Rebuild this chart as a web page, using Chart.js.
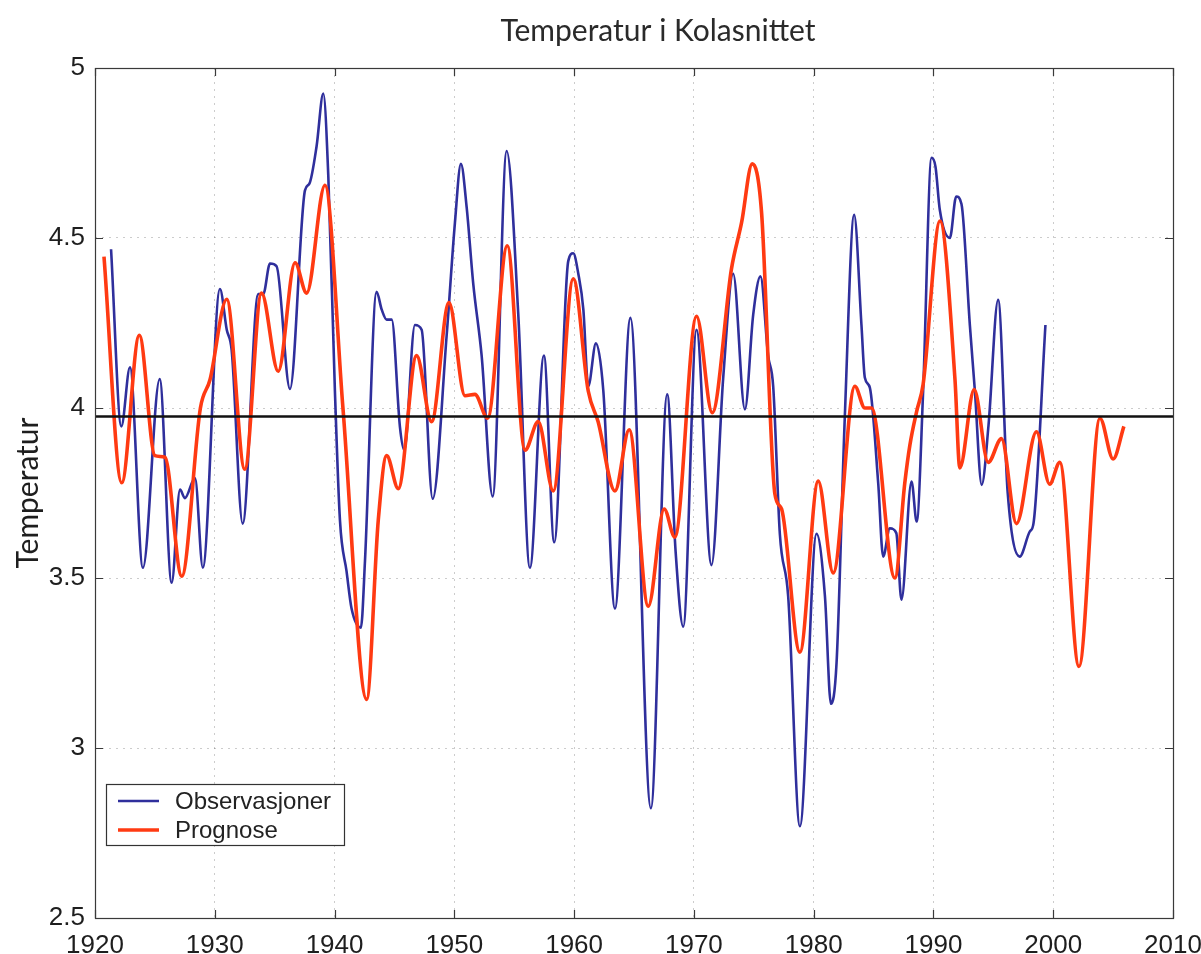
<!DOCTYPE html>
<html>
<head>
<meta charset="utf-8">
<style>
  html, body { margin: 0; padding: 0; background: #ffffff; }
  #wrap { width: 1201px; height: 954px; }
</style>
<script src="https://cdn.jsdelivr.net/npm/chart.js@4.4.1/dist/chart.umd.min.js"></script>
</head>
<body>
<div id="wrap"><canvas id="c" width="1201" height="954"></canvas></div>
<script>
// Observed temperature in the Kola section (smoothed), year / value
const obsYears = [
  1921.34, 1922.2, 1922.92, 1924.0, 1925.4, 1926.4, 1927.1, 1927.5, 1928.35, 1929.0,
  1930.43, 1931.0, 1931.41, 1932.33, 1933.63, 1934.05, 1934.61, 1935.16, 1936.28, 1937.53,
  1937.9, 1938.5, 1939.06, 1939.48, 1940.03, 1940.45, 1941.0, 1941.42, 1942.2, 1942.54,
  1943.51, 1943.93, 1944.35, 1944.77, 1945.46, 1945.82, 1946.71, 1947.27, 1948.19, 1949.36,
  1950.05, 1950.55, 1951.03, 1951.58, 1952.28, 1953.2, 1954.37, 1955.34, 1956.31, 1957.48,
  1958.34, 1959.51, 1959.93, 1960.35, 1960.77, 1961.18, 1961.82, 1962.44, 1963.41, 1964.7,
  1966.41, 1967.77, 1968.47, 1969.11, 1970.22, 1971.47, 1972.45, 1973.28, 1974.26, 1974.95,
  1975.56, 1976.2, 1976.62, 1977.18, 1977.87, 1978.85, 1980.24, 1980.94, 1981.44, 1981.91,
  1982.6, 1983.38, 1983.99, 1984.27, 1984.69, 1985.39, 1985.8, 1986.36, 1986.9, 1987.33,
  1988.17, 1988.6, 1989.14, 1989.84, 1990.17, 1990.53, 1991.37, 1991.9, 1992.34, 1993.04,
  1993.46, 1994.03, 1994.6, 1995.4, 1996.2, 1997.2, 1998.05, 1998.35, 1999.35
];
const obsValues = [
  4.467, 3.946, 4.12, 3.53, 4.085, 3.486, 3.76, 3.735, 3.794, 3.53,
  4.35, 4.23, 4.17, 3.66, 4.335, 4.335, 4.425, 4.417, 4.056, 4.64,
  4.66, 4.77, 4.925, 4.68, 4.05, 3.67, 3.52, 3.41, 3.354, 3.55,
  4.342, 4.29, 4.26, 4.26, 3.944, 3.876, 4.244, 4.23, 3.733, 4.214,
  4.545, 4.718, 4.59, 4.365, 4.154, 3.74, 4.756, 4.274, 3.53, 4.154,
  3.605, 4.432, 4.455, 4.395, 4.29, 4.064, 4.19, 4.05, 3.41, 4.265,
  2.823, 4.04, 3.58, 3.357, 4.23, 3.538, 4.09, 4.395, 3.996, 4.274,
  4.387, 4.154, 4.064, 3.628, 3.447, 2.77, 3.63, 3.447, 3.13, 3.25,
  3.974, 4.568, 4.244, 4.09, 4.06, 3.778, 3.563, 3.646, 3.632, 3.436,
  3.784, 3.666, 4.05, 4.736, 4.71, 4.583, 4.5, 4.622, 4.6, 4.244,
  4.05, 3.774, 3.95, 4.318, 3.75, 3.563, 3.637, 3.66, 4.244
];

// Model forecast for the same section
const progYears = [
  1920.75, 1922.23, 1923.7, 1925.0, 1925.84, 1927.24, 1928.8, 1929.6, 1931.0, 1932.5,
  1933.9, 1935.3, 1936.7, 1937.67, 1939.2, 1940.7, 1942.68, 1943.65, 1944.35, 1945.32,
  1946.85, 1948.1, 1949.55, 1950.89, 1951.72, 1952.78, 1954.42, 1955.9, 1957.0, 1958.26,
  1959.93, 1961.18, 1962.0, 1963.41, 1964.6, 1966.19, 1967.52, 1968.41, 1970.22, 1971.53,
  1973.14, 1973.98, 1974.87, 1975.65, 1976.76, 1977.32, 1978.85, 1980.38, 1981.63, 1983.44,
  1984.27, 1984.83, 1986.78, 1987.61, 1988.03, 1988.6, 1989.14, 1990.55, 1991.8, 1992.2,
  1993.4, 1994.57, 1995.68, 1996.93, 1998.6, 1999.7, 2000.55, 2002.15, 2003.9, 2005.0,
  2005.9
];
const progValues = [
  4.445, 3.78, 4.214, 3.86, 3.855, 3.505, 4.0, 4.083, 4.32, 3.82,
  4.338, 4.108, 4.427, 4.338, 4.655, 4.0, 3.143, 3.67, 3.86, 3.763,
  4.154, 3.96, 4.31, 4.036, 4.04, 3.97, 4.477, 3.876, 3.96, 3.756,
  4.38, 4.05, 3.96, 3.756, 3.936, 3.417, 3.703, 3.62, 4.27, 3.986,
  4.41, 4.545, 4.718, 4.575, 3.748, 3.703, 3.282, 3.785, 3.515, 4.064,
  4.0, 4.0, 3.5, 3.78, 3.89, 3.99, 4.07, 4.55, 4.083, 3.824,
  4.054, 3.84, 3.91, 3.66, 3.93, 3.776, 3.84, 3.24, 3.97, 3.85,
  3.946
];

// Long-term mean level, drawn across the whole period
const meanLevel = 3.975;
const meanYears = [1920, 2010];

const xTickValues = [1920, 1930, 1940, 1950, 1960, 1970, 1980, 1990, 2000, 2010];
const xTickLabels = ['1920', '1930', '1940', '1950', '1960', '1970', '1980', '1990', '2000', '2010'];
const yTickValues = [2.5, 3, 3.5, 4, 4.5, 5];
const yTickLabels = ['2.5', '3', '3.5', '4', '4.5', '5'];

const seriesNames = ['Observasjoner', 'Prognose'];
const chartTitle = 'Temperatur i Kolasnittet';
const yAxisTitle = 'Temperatur';

const BLUE = '#2f2f9c';
const RED = '#ff3a12';
const TICK_FONT = '"Liberation Sans Narrow", "Liberation Sans", Arial, sans-serif';
const TEXT_FONT = 'Lato, "Open Sans", sans-serif';

const toPoints = (xs, ys) => xs.map((x, i) => ({ x: x, y: ys[i] }));

// Title, box frame with inward tick marks on all four sides, and the legend box
const framePlugin = {
  id: 'frameAndLegend',
  afterDatasetsDraw(chart) {
    const ctx = chart.ctx;
    const a = chart.chartArea;
    const xs = chart.scales.x;
    const ys = chart.scales.y;
    const L = 8;
    ctx.save();

    ctx.fillStyle = '#2a2a2a';
    ctx.font = '30px ' + TEXT_FONT;
    ctx.textAlign = 'center';
    ctx.textBaseline = 'middle';
    ctx.fillText(chartTitle, (a.left + a.right) / 2 + 24, 31);
    ctx.textAlign = 'left';

    ctx.strokeStyle = '#3a3a3a';
    ctx.lineWidth = 1.2;
    ctx.strokeRect(a.left + 0.5, a.top + 0.5, a.right - a.left, a.bottom - a.top);
    ctx.beginPath();
    xTickValues.forEach(v => {
      const px = Math.round(xs.getPixelForValue(v)) + 0.5;
      ctx.moveTo(px, a.bottom); ctx.lineTo(px, a.bottom - L);
      ctx.moveTo(px, a.top); ctx.lineTo(px, a.top + L);
    });
    yTickValues.forEach(v => {
      const py = Math.round(ys.getPixelForValue(v)) + 0.5;
      ctx.moveTo(a.left, py); ctx.lineTo(a.left + L, py);
      ctx.moveTo(a.right, py); ctx.lineTo(a.right - L, py);
    });
    ctx.stroke();

    // legend in the lower left corner of the plot
    const bx = a.left + 11, by = a.bottom - 134, bw = 238, bh = 61;
    ctx.fillStyle = '#ffffff';
    ctx.fillRect(bx, by, bw, bh);
    ctx.strokeStyle = '#333333';
    ctx.lineWidth = 1.2;
    ctx.strokeRect(bx + 0.5, by + 0.5, bw, bh);
    const entries = seriesNames.map(n => chart.data.datasets.find(d => d.label === n));
    ctx.font = '24px "Liberation Sans", Arial, sans-serif';
    ctx.textBaseline = 'middle';
    entries.forEach((d, i) => {
      const ly = by + 17 + i * 29;
      ctx.strokeStyle = d.borderColor;
      ctx.lineWidth = d.borderWidth;
      ctx.beginPath();
      ctx.moveTo(bx + 12, ly);
      ctx.lineTo(bx + 53, ly);
      ctx.stroke();
      ctx.fillStyle = '#222222';
      ctx.fillText(d.label, bx + 69, ly + 1);
    });
    ctx.restore();
  }
};

new Chart(document.getElementById('c'), {
  type: 'line',
  data: {
    datasets: [
      {
        label: 'Middel',
        data: toPoints(meanYears, meanYears.map(() => meanLevel)),
        borderColor: '#111111',
        borderWidth: 2.6,
        pointRadius: 0,
        order: 0
      },
      {
        label: seriesNames[1],
        data: toPoints(progYears, progValues),
        borderColor: RED,
        borderWidth: 3.6,
        pointRadius: 0,
        cubicInterpolationMode: 'monotone',
        order: 1
      },
      {
        label: seriesNames[0],
        data: toPoints(obsYears, obsValues),
        borderColor: BLUE,
        borderWidth: 2.6,
        pointRadius: 0,
        cubicInterpolationMode: 'monotone',
        order: 2
      }
    ]
  },
  options: {
    responsive: false,
    devicePixelRatio: 1,
    animation: false,
    layout: { padding: { left: 0, right: 28, top: 68, bottom: 0 } },
    plugins: {
      legend: { display: false },
      tooltip: { enabled: false },
      title: { display: false }
    },
    scales: {
      x: {
        type: 'linear',
        min: 1920,
        max: 2010,
        afterBuildTicks: s => { s.ticks = xTickValues.map(v => ({ value: v })); },
        afterFit: s => { s.height = 36; s.paddingLeft = 0; s.paddingRight = 0; },
        ticks: {
          autoSkip: false,
          maxRotation: 0,
          padding: 12,
          color: '#1e1e1e',
          font: { family: TICK_FONT, size: 26 },
          callback: v => xTickLabels[xTickValues.indexOf(v)]
        },
        grid: { color: 'rgba(0,0,0,0.2)', lineWidth: 1, drawTicks: false },
        border: { display: false, dash: [2, 5] }
      },
      y: {
        type: 'linear',
        min: 2.5,
        max: 5,
        afterBuildTicks: s => { s.ticks = yTickValues.map(v => ({ value: v })); },
        afterFit: s => { s.width = 95; s.paddingTop = 0; s.paddingBottom = 0; },
        ticks: {
          padding: 10,
          color: '#1e1e1e',
          font: { family: TICK_FONT, size: 26 },
          callback: v => yTickLabels[yTickValues.indexOf(v)]
        },
        title: {
          display: true,
          text: yAxisTitle,
          color: '#1e1e1e',
          font: { family: TEXT_FONT, size: 30, weight: 'normal' },
          padding: { top: 10, bottom: 0 }
        },
        grid: { color: 'rgba(0,0,0,0.2)', lineWidth: 1, drawTicks: false },
        border: { display: false, dash: [2, 5] }
      }
    }
  },
  plugins: [framePlugin]
});
</script>
</body>
</html>
